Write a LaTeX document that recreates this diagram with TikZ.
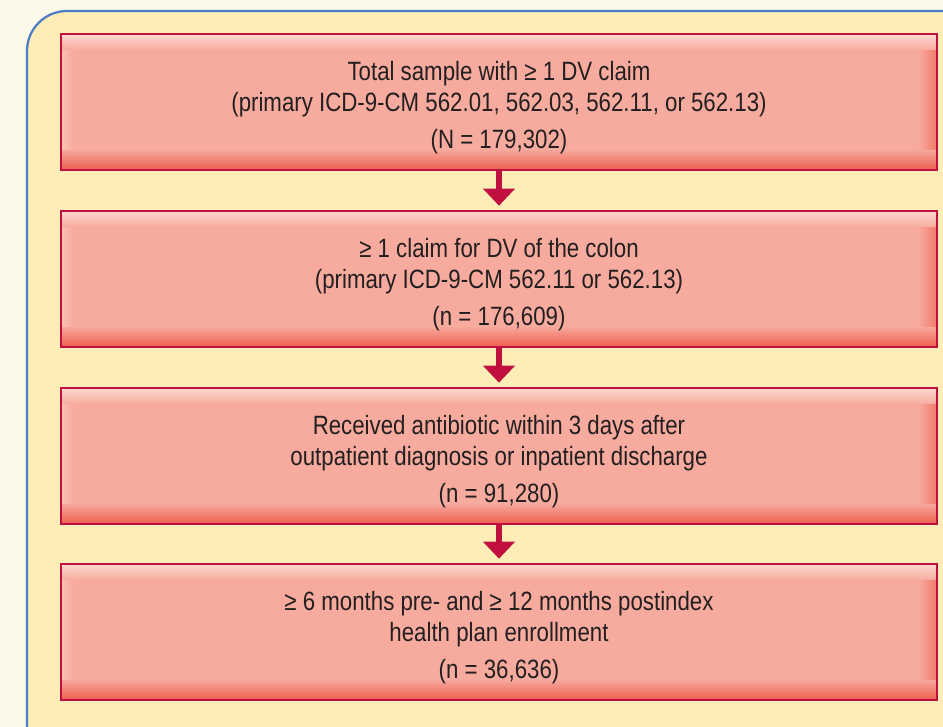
\documentclass[tikz,border=0pt]{standalone}
\usepackage{fontspec}
\setmainfont{Liberation Sans}[FakeStretch=0.84]
\usetikzlibrary{arrows.meta}
\definecolor{bgcream}{HTML}{FDF9E8}
\definecolor{panelfill}{HTML}{FFEDB8}
\definecolor{panelblue}{HTML}{4A7DC6}
\definecolor{salmon}{HTML}{F7AB9E}
\definecolor{salmonlight}{HTML}{FDD8D0}
\definecolor{salmonside}{HTML}{FAC2B6}
\definecolor{salmondark}{HTML}{EE6252}
\definecolor{salmonright}{HTML}{F27D6D}
\definecolor{crimson}{HTML}{C0103F}
\definecolor{txtgray}{HTML}{231F20}
\tikzset{
  flowbox/.style={rectangle, minimum width=876pt, minimum height=136pt, inner sep=0pt,
    fill=salmon, draw=crimson, line width=2.6pt,
    path picture={
      \foreach \i [evaluate=\i as \p using 100*\i/12] in {0,...,11}
        \fill[salmon!\p!salmonside] ([xshift=\i*1pt]path picture bounding box.north west) rectangle ([xshift=(\i+1.3)*1pt]path picture bounding box.south west);
      \foreach \i [evaluate=\i as \p using 100*\i/18] in {0,...,17}
        \fill[salmon!\p!salmonright] ([xshift=-\i*1pt]path picture bounding box.north east) rectangle ([xshift=-(\i+1.3)*1pt]path picture bounding box.south east);
      \foreach \i [evaluate=\i as \p using 100*\i/16] in {0,...,15}
        \fill[salmon!\p!salmonlight] ([yshift=-\i*1pt]path picture bounding box.north west) rectangle ([yshift=-(\i+1.3)*1pt]path picture bounding box.north east);
      \foreach \i [evaluate=\i as \p using 100*\i/20] in {0,...,19}
        \fill[salmon!\p!salmondark] ([yshift=\i*1pt]path picture bounding box.south west) rectangle ([yshift=(\i+1.3)*1pt]path picture bounding box.south east);
    }},
  flowtext/.style={align=center, text=txtgray, inner sep=0pt,
    font=\fontsize{26.5}{31}\selectfont},
  flowarrow/.style={draw=crimson, line width=6pt, -{Triangle[width=31pt,length=17pt]}, shorten >=4pt}
}
\begin{document}
\begin{tikzpicture}[x=1pt,y=-1pt]
\useasboundingbox (0,0) rectangle (943,727);
\clip (0,0) rectangle (943,727);
\fill[bgcream] (0,0) rectangle (943,727);
\draw[panelblue, fill=panelfill, line width=2.2pt, rounded corners=40pt] (27,11) rectangle (990,770);
\node[flowbox] (b1) at (499,102) {};
\node[flowbox] (b2) at (499,279) {};
\node[flowbox] (b3) at (499,456) {};
\node[flowbox] (b4) at (499,632) {};
\node[flowtext] (t1) at ([yshift=-6pt]b1.center) {Total sample with ≥ 1 DV claim\\(primary ICD-9-CM 562.01, 562.03, 562.11, or 562.13)\\[6pt](N = 179,302)};
\node[flowtext] (t2) at ([yshift=-6pt]b2.center) {≥ 1 claim for DV of the colon\\(primary ICD-9-CM 562.11 or 562.13)\\[6pt](n = 176,609)};
\node[flowtext] (t3) at ([yshift=-6pt]b3.center) {Received antibiotic within 3 days after\\outpatient diagnosis or inpatient discharge\\[6pt](n = 91,280)};
\node[flowtext] (t4) at ([yshift=-6pt]b4.center) {≥ 6 months pre- and ≥ 12 months postindex\\health plan enrollment\\[6pt](n = 36,636)};
\draw[flowarrow] (b1.south) -- (b2.north);
\draw[flowarrow] (b2.south) -- (b3.north);
\draw[flowarrow] (b3.south) -- (b4.north);
\end{tikzpicture}
\end{document}
